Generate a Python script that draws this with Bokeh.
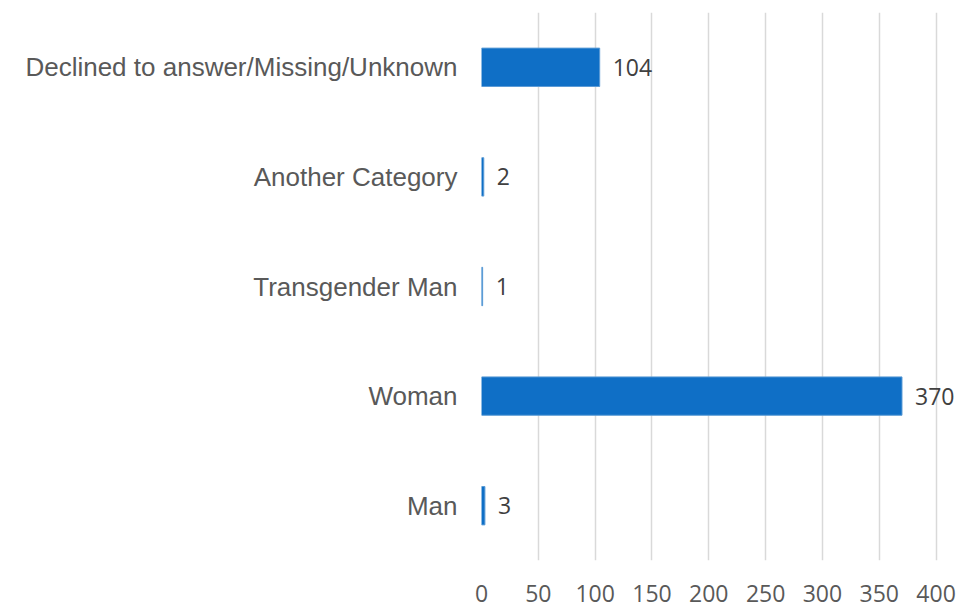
from bokeh.plotting import figure
from bokeh.models import ColumnDataSource, FixedTicker, Range1d
from bokeh.core.properties import value
from bokeh.embed import file_html
from bokeh.resources import INLINE

categories = ["Man", "Woman", "Transgender Man", "Another Category",
              "Declined to answer/Missing/Unknown"]
counts = [3, 370, 1, 2, 104]
x_ticks = [0, 50, 100, 150, 200, 250, 300, 350, 400]

src = ColumnDataSource(dict(cat=categories, n=counts, lbl=[str(c) for c in counts]))

p = figure(width=964, height=608, y_range=categories, x_range=Range1d(0, 425),
           output_backend="svg", toolbar_location=None,
           min_border_left=481, min_border_right=0, min_border_top=12, min_border_bottom=48)
p.outline_line_color = None
p.background_fill_color = "white"
p.border_fill_color = "white"

p.hbar(y="cat", right="n", left=0, height=0.35, source=src,
       fill_color="#0F6FC6", line_color="#5B9BD5", line_width=1)

p.text(x="n", y="cat", text="lbl", source=src, x_offset=13,
       text_baseline="middle", text_align="left",
       text_font=value("Open Sans"), text_font_size="23px", text_color="#404040")

p.xaxis.ticker = FixedTicker(ticks=x_ticks)
p.xaxis.axis_line_color = None
p.xaxis.major_tick_line_color = None
p.xaxis.minor_tick_line_color = None
p.xaxis.major_tick_out = 0
p.xaxis.major_label_standoff = 24
p.xaxis.major_label_text_font = "Open Sans"
p.xaxis.major_label_text_font_size = "23px"
p.xaxis.major_label_text_color = "#595959"

p.yaxis.axis_line_color = None
p.yaxis.major_tick_line_color = None
p.yaxis.minor_tick_line_color = None
p.yaxis.major_tick_out = 0
p.yaxis.major_label_standoff = 24
p.yaxis.major_label_text_font = "Liberation Sans"
p.yaxis.major_label_text_font_size = "26px"
p.yaxis.major_label_text_color = "#595959"

p.xgrid.grid_line_color = "#D9D9D9"
p.xgrid.grid_line_width = 1.5
p.ygrid.grid_line_color = None

open("out.html", "w").write(file_html(p, INLINE))
